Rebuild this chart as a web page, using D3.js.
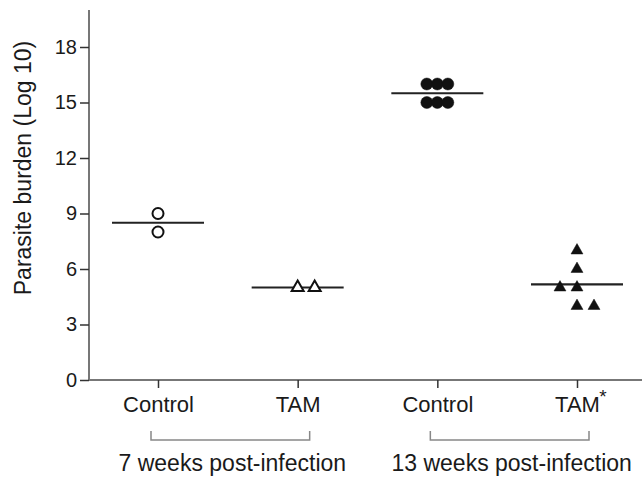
<!DOCTYPE html>
<html>
<head>
<meta charset="utf-8">
<script src="https://cdn.jsdelivr.net/npm/d3@7"></script>
<style>
  body { margin: 0; background: #fff; }
  text { font-family: Arial, "Liberation Sans", sans-serif; fill: #1a1a1a; }
</style>
</head>
<body>
<svg id="chart"></svg>
<script>
// categories along the x axis
var groups = ["c7", "t7", "c13", "t13"]
var groupLabels = ["Control", "TAM", "Control", "TAM"]
var groupMarks = ["", "", "", "*"]

// parasite burden (log 10) per animal
var control7 = [9, 8]
var tam7 = [5, 5]
var control13 = [16, 16, 16, 15, 15, 15]
var tam13 = [7, 6, 5, 5, 4, 4]
// side-by-side slot of each point (how the dots were spread out)
var slot7c = [0, 0]
var slot7t = [0, 1]
var slot13c = [-1, 0, 1, -1, 0, 1]
var slot13t = [0, 0, -1, 0, 0, 1]

var yTicks = [0, 3, 6, 9, 12, 15, 18]
var timepoints = ["7 weeks post-infection", "13 weeks post-infection"]
var timeGroups = [["c7", "t7"], ["c13", "t13"]]

var series = [
  {key: "c7", values: control7, slots: slot7c, shape: "circle", filled: false},
  {key: "t7", values: tam7, slots: slot7t, shape: "triangle", filled: false},
  {key: "c13", values: control13, slots: slot13c, shape: "circle", filled: true},
  {key: "t13", values: tam13, slots: slot13t, shape: "triangle", filled: true}
]

var screen = {width: 642, height: 478}
var margins = {top: 10, left: 89, bottom: 98}
var plotBottom = screen.height - margins.bottom

var svg = d3.select("#chart")
  .attr("width", screen.width)
  .attr("height", screen.height)

var xScale = d3.scalePoint()
  .domain(groups)
  .range([158, 577])

var yScale = d3.scaleLinear()
  .domain([0, 20])
  .range([plotBottom, margins.top])

// y axis
var yAxis = d3.axisLeft(yScale).tickValues(yTicks).tickSize(9).tickPadding(3)
var gy = svg.append("g")
  .attr("transform", "translate(" + margins.left + ",0)")
  .call(yAxis)
gy.select(".domain").attr("stroke", "#777").attr("stroke-width", 2)
  .attr("d", "M0," + yScale(20) + "V" + plotBottom)
gy.selectAll(".tick line").attr("stroke", "#333").attr("stroke-width", 1.5)
gy.selectAll(".tick text").style("font-size", "20px").style("font-family", "Arial, 'Liberation Sans', sans-serif").attr("fill", "#1a1a1a")

// x axis
var xAxis = d3.axisBottom(xScale).tickSize(8).tickFormat(function(d, i) { return groupLabels[i] }).tickPadding(8)
var gx = svg.append("g")
  .attr("transform", "translate(0," + plotBottom + ")")
  .call(xAxis)
gx.select(".domain").attr("stroke", "#777").attr("stroke-width", 2)
  .attr("d", "M" + margins.left + ",0H" + screen.width)
gx.selectAll(".tick line").attr("stroke", "#333").attr("stroke-width", 1.5)
gx.selectAll(".tick text").style("font-size", "22px").style("font-family", "Arial, 'Liberation Sans', sans-serif").attr("fill", "#1a1a1a")

// asterisk next to a label
gx.selectAll(".tick").each(function(d, i) {
  if (!groupMarks[i]) return
  var bb = this.querySelector("text").getBBox()
  d3.select(this).append("text")
    .text(groupMarks[i])
    .attr("x", bb.x + bb.width + 3)
    .attr("y", bb.y + 11)
    .style("font-size", "19px")
})

// y label
svg.append("g")
  .attr("transform", "translate(31," + (margins.top + (plotBottom - margins.top) / 2 - 27) + ")")
  .append("text")
  .text("Parasite burden (Log 10)")
  .attr("text-anchor", "middle")
  .attr("transform", "rotate(-90)")
  .style("font-size", "23px")

// brackets under the groups
var brackets = svg.append("g")
timeGroups.forEach(function(tg, i) {
  var x0 = xScale(tg[0]) - 7
  var x1 = xScale(tg[1]) + 12
  brackets.append("path")
    .attr("d", "M" + x0 + ",431V440H" + x1 + "V431")
    .attr("fill", "none")
    .attr("stroke", "#888")
    .attr("stroke-width", 1.5)
  brackets.append("text")
    .text(timepoints[i])
    .attr("x", (x0 + x1) / 2 + 2)
    .attr("y", 471)
    .attr("text-anchor", "middle")
    .style("font-size", "23px")
})

// points and mean lines
var tri = d3.symbol().type(d3.symbolTriangle).size(62)
var marks = svg.append("g")
series.forEach(function(s) {
  var cx = xScale(s.key)
  var step = s.shape == "circle" ? 10.5 : 17
  var mean = d3.mean(s.values)
  marks.append("line")
    .attr("x1", cx - 46).attr("x2", cx + 46)
    .attr("y1", yScale(mean)).attr("y2", yScale(mean))
    .attr("stroke", "#222").attr("stroke-width", 2.2)
  var pts = marks.append("g")
    .selectAll("g")
    .data(s.values)
    .enter()
    .append("g")
    .attr("transform", function(v, i) {
      return "translate(" + (cx + s.slots[i] * step) + "," + yScale(v) + ")"
    })
  if (s.shape == "circle") {
    pts.append("circle")
      .attr("r", s.filled ? 6 : 5.5)
      .attr("fill", s.filled ? "#111" : "#fff")
      .attr("stroke", "#111")
      .attr("stroke-width", s.filled ? 0.5 : 2)
  } else {
    pts.append("path")
      .attr("d", tri)
      .attr("fill", s.filled ? "#111" : "#fff")
      .attr("stroke", "#111")
      .attr("stroke-width", s.filled ? 0.5 : 2)
  }
})
</script>
</body>
</html>
